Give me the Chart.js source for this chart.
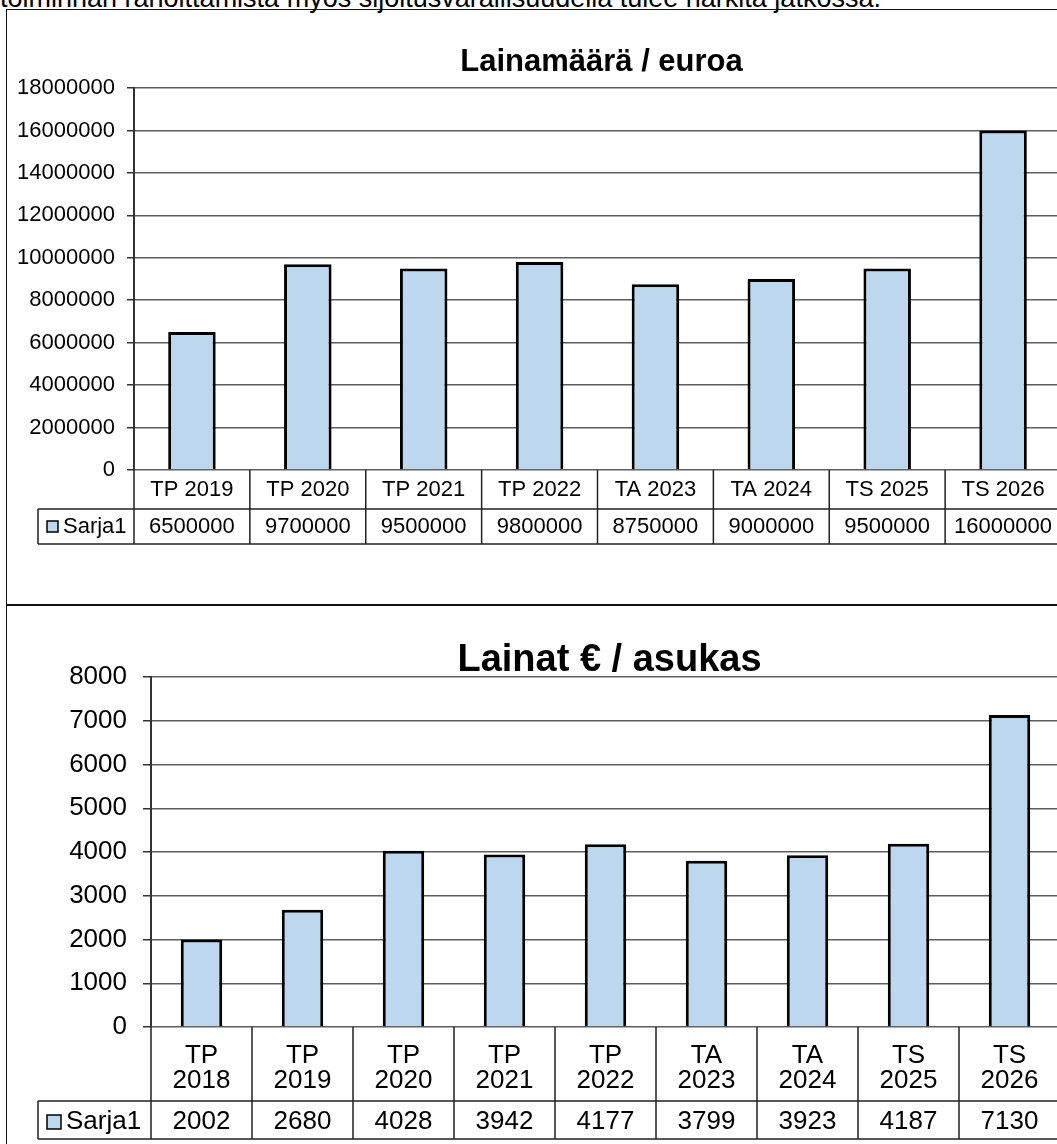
<!DOCTYPE html>
<html>
<head>
<meta charset="utf-8">
<script src="https://cdn.jsdelivr.net/npm/chart.js@4.4.1/dist/chart.umd.min.js"></script>
<style>
    html, body { margin: 0; padding: 0; background: #fff; }
    body { width: 1057px; height: 1144px; position: relative; overflow: hidden; font-family: 'Liberation Sans', Arial, sans-serif; }
    #note { position: absolute; left: 0; top: -17px; font-size: 27px; line-height: 31px; white-space: nowrap; color: #000; }
    .frame { position: absolute; left: 6px; width: 1200px; border: 1.5px solid #111; box-sizing: border-box; }
    .wrap { position: absolute; left: 0; width: 1070px; }
</style>
</head>
<body>
<div id="note">toiminnan rahoittamista myös sijoitusvarallisuudella tulee harkita jatkossa.</div>
<div class="frame" style="top: 9px; height: 597px;"></div>
<div class="frame" style="top: 604px; height: 600px;"></div>
<div class="wrap" style="top: 0; height: 605px;"><canvas id="amountChart" width="1070" height="605"></canvas></div>
<div class="wrap" style="top: 605px; height: 539px;"><canvas id="perCapitaChart" width="1070" height="539"></canvas></div>

<script>
// Lainamäärä / euroa
const amountLabels = ['TP 2019', 'TP 2020', 'TP 2021', 'TP 2022', 'TA 2023', 'TA 2024', 'TS 2025', 'TS 2026'];
const amountValues = [6500000, 9700000, 9500000, 9800000, 8750000, 9000000, 9500000, 16000000];
const amountMax = 18000000;
const amountStep = 2000000;

// Lainat € / asukas
const perCapitaLabels = [['TP', '2018'], ['TP', '2019'], ['TP', '2020'], ['TP', '2021'], ['TP', '2022'],
                         ['TA', '2023'], ['TA', '2024'], ['TS', '2025'], ['TS', '2026']];
const perCapitaValues = [2002, 2680, 4028, 3942, 4177, 3799, 3923, 4187, 7130];
const perCapitaMax = 8000;
const perCapitaStep = 1000;

const seriesName = 'Sarja1';
const barFill = '#BDD7EE';
const fontFamily = "'Liberation Sans', Arial, sans-serif";

Chart.defaults.font.family = fontFamily;
Chart.defaults.color = '#000';

// Excel style data table under the plot + chart title
const excelTable = {
    id: 'excelTable',
    afterDraw(chart, args, opts) {
        const { ctx, chartArea } = chart;
        const x = chart.scales.x;
        const labels = chart.data.labels;
        const values = chart.data.datasets[0].data;
        const n = labels.length;
        const half = (x.getPixelForValue(1) - x.getPixelForValue(0)) / 2;
        const top = chartArea.bottom;
        const mid = top + opts.labelRow;
        const bottom = mid + opts.valueRow;

        ctx.save();

        // title
        ctx.font = `bold ${opts.titleSize}px ${fontFamily}`;
        ctx.fillStyle = '#000';
        ctx.textAlign = 'center';
        ctx.textBaseline = 'alphabetic';
        ctx.fillText(opts.title, (chartArea.left + chartArea.right) / 2 + opts.titleShift, opts.titleY);

        // grid of the table
        ctx.strokeStyle = '#222';
        ctx.lineWidth = 1.5;
        ctx.beginPath();
        ctx.moveTo(opts.left, mid); ctx.lineTo(chartArea.right, mid);
        ctx.moveTo(opts.left, bottom); ctx.lineTo(chartArea.right, bottom);
        ctx.moveTo(opts.left, mid); ctx.lineTo(opts.left, bottom);
        for (let i = 0; i <= n; i++) {
            const px = i < n ? x.getPixelForValue(i) - half : x.getPixelForValue(n - 1) + half;
            ctx.moveTo(px, top);
            ctx.lineTo(px, bottom);
        }
        ctx.stroke();

        // category labels and values
        ctx.font = `${opts.fontSize}px ${fontFamily}`;
        ctx.textBaseline = 'middle';
        ctx.textAlign = 'center';
        for (let i = 0; i < n; i++) {
            const cx = x.getPixelForValue(i);
            const lines = Array.isArray(labels[i]) ? labels[i] : [labels[i]];
            const y0 = top + opts.labelRow / 2 - (lines.length - 1) * opts.lineHeight / 2 + opts.shift;
            lines.forEach((line, k) => ctx.fillText(line, cx, y0 + k * opts.lineHeight));
            ctx.fillText(String(values[i]), cx, mid + opts.valueRow / 2 + opts.valueShift);
        }

        // legend key
        const s = opts.swatch;
        const ky = mid + opts.valueRow / 2 + opts.valueShift;
        ctx.fillStyle = barFill;
        ctx.fillRect(opts.left + 9, ky - s / 2, s, s);
        ctx.strokeStyle = '#000';
        ctx.lineWidth = 1.5;
        ctx.strokeRect(opts.left + 9, ky - s / 2, s, s);
        ctx.fillStyle = '#000';
        ctx.textAlign = 'left';
        ctx.fillText(seriesName, opts.left + 9 + s + 5, ky);

        ctx.restore();
    }
};

function makeChart(id, labels, values, max, step, cfg) {
    return new Chart(document.getElementById(id), {
        type: 'bar',
        data: {
            labels: labels,
            datasets: [{
                label: seriesName,
                data: values,
                backgroundColor: barFill,
                borderColor: '#000',
                borderWidth: 3,
                barPercentage: 0.41,
                categoryPercentage: 1
            }]
        },
        options: {
            responsive: false,
            animation: false,
            devicePixelRatio: 1,
            layout: { padding: { top: cfg.top, bottom: cfg.bottom, left: 0, right: cfg.right } },
            plugins: {
                legend: { display: false },
                tooltip: { enabled: false },
                excelTable: cfg.table
            },
            scales: {
                x: { display: false },
                y: {
                    min: 0,
                    max: max,
                    ticks: {
                        stepSize: step,
                        padding: cfg.tickPad,
                        color: '#000',
                        font: { size: cfg.fontSize },
                        callback: v => String(v)
                    },
                    grid: { color: '#5e5e5e', lineWidth: 1.5, tickLength: cfg.tickLen, tickColor: '#333' },
                    border: { color: '#333', width: 2 },
                    afterFit: scale => { scale.width = cfg.axisWidth; }
                }
            }
        },
        plugins: [excelTable]
    });
}

makeChart('amountChart', amountLabels, amountValues, amountMax, amountStep, {
    top: 88, bottom: 135, right: 9, axisWidth: 134, tickPad: 12, tickLen: 7, fontSize: 22,
    table: { title: 'Lainamäärä / euroa', titleSize: 31, titleY: 71, titleShift: 4, left: 38,
             labelRow: 39, valueRow: 35, lineHeight: 25, shift: 0, valueShift: 0, fontSize: 22, swatch: 11 }
});

makeChart('perCapitaChart', perCapitaLabels, perCapitaValues, perCapitaMax, perCapitaStep, {
    top: 72, bottom: 117, right: 10, axisWidth: 151, tickPad: 16, tickLen: 8, fontSize: 26,
    table: { title: 'Lainat € / asukas', titleSize: 38, titleY: 66, titleShift: 4, left: 38,
             labelRow: 74, valueRow: 38, lineHeight: 25, shift: 4, valueShift: 2, fontSize: 26, swatch: 14 }
});
</script>
</body>
</html>
